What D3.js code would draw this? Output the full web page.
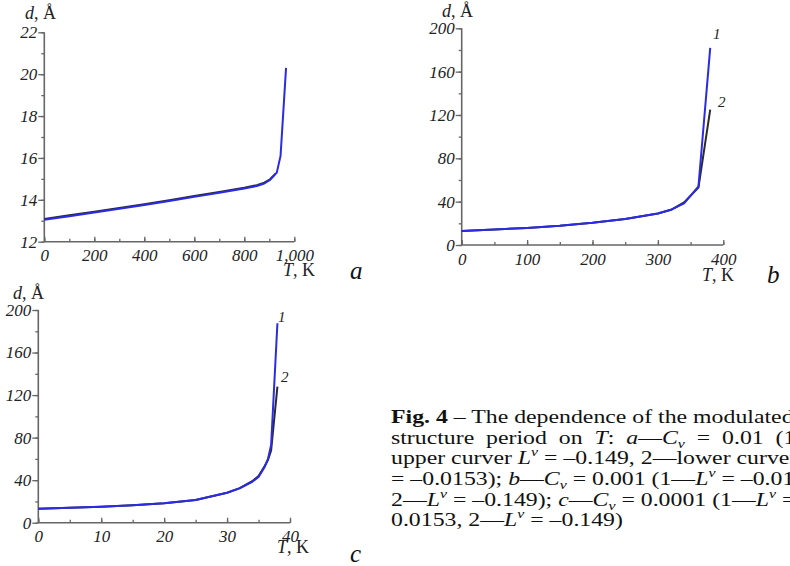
<!DOCTYPE html>
<html><head><meta charset="utf-8">
<script src="https://cdn.jsdelivr.net/npm/d3@7/dist/d3.min.js"></script>
<style>body{margin:0;background:#fff;}svg{display:block;} svg text{font-family:"Liberation Serif","Times New Roman",serif;}</style>
</head><body><svg id="c" width="790" height="566"></svg>
<script>
// ---- Data ----
const T_a = [0,100,200,300,400,500,600,700,800,850,880,903,930,945,967];
const d_a1 = [13.05,13.22,13.39,13.57,13.75,13.94,14.14,14.34,14.54,14.66,14.78,14.95,15.3,16.1,20.3];
const T_a2 = [0,100,200,300,400,500,600,700,800,850,880,903,925];
const d_a2 = [13.09,13.26,13.43,13.61,13.79,13.98,14.18,14.38,14.58,14.7,14.82,14.98,15.25];
const ticks_a_x = [0,200,400,600,800,1000];
const ticks_a_y = [12,14,16,18,20,22];

const T_b = [0,50,100,150,200,250,300,320,340,362,380];
const d_b1 = [13,14.3,15.8,17.8,20.5,24,29,32.5,38.5,54,182];
const d_b2 = [13,14.3,15.8,17.8,20.5,24,29,32.5,39.3,53,125];
const ticks_b_x = [0,100,200,300,400];
const ticks_b_y = [0,40,80,120,160,200];

const T_c = [0,5,10,15,20,25,30,32,34,35,36,36.5,37,38];
const d_c1 = [13.2,14,15,16.4,18.2,21.3,28.2,32.3,38.5,43,52.7,60,73,187.5];
const T_c2 = [0,5,10,15,20,25,30,32,34,35,36,36.5,37,38];
const d_c2 = [13.2,14,15,16.4,18.2,21.3,28.2,32.5,39,44,53.5,59,68,128];
const ticks_c_x = [0,10,20,30,40];
const ticks_c_y = [0,40,80,120,160,200];

const svg = d3.select("#c");
const BLUE = "#2b2be6", BLACK = "#2a2a2a", AX = "#666";

function ser(sel){ return sel.style("font-family","'Liberation Serif','Times New Roman',serif"); }

function panel(o){
  const g = svg.append("g");
  const x = d3.scaleLinear().domain(o.xd).range([o.x0,o.x1]);
  const y = d3.scaleLinear().domain(o.yd).range([o.y0,o.y1]);
  const xm = d3.range(o.xd[0], o.xd[1]+1e-9, o.xminor);
  const ym = d3.range(o.yd[0], o.yd[1]+1e-9, o.yminor);
  g.append("g").attr("transform",`translate(0,${o.y0})`)
    .call(d3.axisBottom(x).tickValues(xm).tickSize(-3).tickFormat(""))
    .call(s=>{s.select(".domain").remove(); s.selectAll("line").attr("stroke",AX).attr("stroke-width",1.3);});
  g.append("g").attr("transform",`translate(${o.x0},0)`)
    .call(d3.axisLeft(y).tickValues(ym).tickSize(3).tickFormat(""))
    .call(s=>{s.select(".domain").remove(); s.selectAll("line").attr("stroke",AX).attr("stroke-width",1.3);});
  const xa = g.append("g").attr("transform",`translate(0,${o.y0})`)
    .call(d3.axisBottom(x).tickValues(o.xt).tickSize(-5).tickPadding(7).tickSizeOuter(0));
  xa.attr("font-family",null).attr("font-size",null);
  xa.select(".domain").attr("stroke",AX).attr("stroke-width",1.6).attr("d",`M${o.x0},0H${o.x1}`);
  xa.selectAll("line").attr("stroke",AX).attr("stroke-width",1.3);
  ser(xa.selectAll("text")).style("font-style","italic").style("font-size","17px").attr("fill","#222").attr("dy","0.75em");
  const ya = g.append("g").attr("transform",`translate(${o.x0},0)`)
    .call(d3.axisLeft(y).tickValues(o.yt).tickSize(6).tickPadding(1).tickSizeOuter(0));
  ya.attr("font-family",null).attr("font-size",null);
  ya.select(".domain").attr("stroke",AX).attr("stroke-width",1.6).attr("d",`M0,${o.y0}V${o.y1}`);
  ya.selectAll("line").attr("stroke",AX).attr("stroke-width",1.3);
  ser(ya.selectAll("text")).style("font-style","italic").style("font-size","17px").attr("fill","#222");
  const line = d3.line().x(d=>x(d[0])).y(d=>y(d[1]));
  o.series.forEach(s=>{
    g.append("path").datum(d3.zip(s.t,s.d)).attr("d",line)
      .attr("fill","none").attr("stroke",s.c).attr("stroke-width",2).attr("stroke-linejoin","round");
  });
  const yl = ser(g.append("text")).attr("x",o.ylab[0]).attr("y",o.ylab[1]).style("font-size","18px").attr("fill","#222");
  yl.append("tspan").style("font-style","italic").text("d");
  yl.append("tspan").text(", Å");
  const xl = ser(g.append("text")).attr("x",o.xlab[0]).attr("y",o.xlab[1]).style("font-size","18px").attr("fill","#222");
  xl.append("tspan").style("font-style","italic").text("T");
  xl.append("tspan").text(", K");
  ser(g.append("text")).attr("x",o.pl[0]).attr("y",o.pl[1]).style("font-style","italic").style("font-size","25px").attr("fill","#111").text(o.pl[2]);
  (o.nums||[]).forEach(n=>{
    ser(g.append("text")).attr("x",n[0]).attr("y",n[1]).style("font-style","italic").style("font-size","15px").attr("fill","#222").text(n[2]);
  });
}

panel({xd:[0,1000],yd:[12,22],x0:44.3,x1:294.3,y0:241.7,y1:32.3,xminor:100,yminor:1,
  xt:ticks_a_x,yt:ticks_a_y,
  series:[{t:T_a2,d:d_a2,c:BLACK},{t:T_a,d:d_a1,c:BLUE}],
  ylab:[25,19],xlab:[283,276],pl:[350,279,"a"]});
panel({xd:[0,400],yd:[0,200],x0:461.7,x1:723.3,y0:245,y1:28.3,xminor:50,yminor:20,
  xt:ticks_b_x,yt:ticks_b_y,
  series:[{t:T_b,d:d_b2,c:BLACK},{t:T_b,d:d_b1,c:BLUE}],
  ylab:[442,17],xlab:[702,281],pl:[767,283,"b"],
  nums:[[713,39,"1"],[718,107,"2"]]});
panel({xd:[0,40],yd:[0,200],x0:38.3,x1:290,y0:522.7,y1:310,xminor:5,yminor:20,
  xt:ticks_c_x,yt:ticks_c_y,
  series:[{t:T_c2,d:d_c2,c:BLACK},{t:T_c,d:d_c1,c:BLUE}],
  ylab:[13,299],xlab:[277,553],pl:[350,562,"c"],
  nums:[[278,322,"1"],[281,382,"2"]]});

// ---- Caption ----
const cap = svg.append("g").attr("transform","translate(391,0) scale(1.22,1)").attr("fill","#111");
const capLines = [
  [["b","Fig. 4"],["n"," – The dependence of the modulated"]],
  [["n","structure  period  on  "],["i","T"],["n",":  "],["i","a"],["n","—"],["i","C"],["sub","v"],["n","  =  0.01  (1—"]],
  [["n","upper curver "],["i","L"],["sup","v"],["n"," = –0.149, 2—lower curver "],["i","L"],["sup","v"]],
  [["n","= –0.0153); "],["i","b"],["n","—"],["i","C"],["sub","v"],["n"," = 0.001 (1—"],["i","L"],["sup","v"],["n"," = –0.0153,"]],
  [["n","2—"],["i","L"],["sup","v"],["n"," = –0.149); "],["i","c"],["n","—"],["i","C"],["sub","v"],["n"," = 0.0001 (1—"],["i","L"],["sup","v"],["n"," = –"]],
  [["n","0.0153, 2—"],["i","L"],["sup","v"],["n"," = –0.149)"]]
];
const baseY = [423,444,464.5,485,506,526];
capLines.forEach((ln,i)=>{
  const t = ser(cap.append("text")).attr("x",0).attr("y",baseY[i]).style("white-space","pre").style("font-size","19.5px");
  let prevK = null;
  ln.forEach(([k,s])=>{
    const sp = t.append("tspan").text(s);
    if(k==="b") sp.style("font-weight","bold");
    if(k==="i") sp.style("font-style","italic");
    if(k==="sub"){ sp.style("font-style","italic").style("font-size","13px").attr("dy",4); }
    if(k==="sup"){ sp.style("font-style","italic").style("font-size","13px").attr("dy",-8); }
    if(k!=="sub" && k!=="sup"){
      if(prevK==="sub") sp.attr("dy",-4);
      if(prevK==="sup") sp.attr("dy",8);
    }
    prevK = k;
  });
});
</script></body></html>
